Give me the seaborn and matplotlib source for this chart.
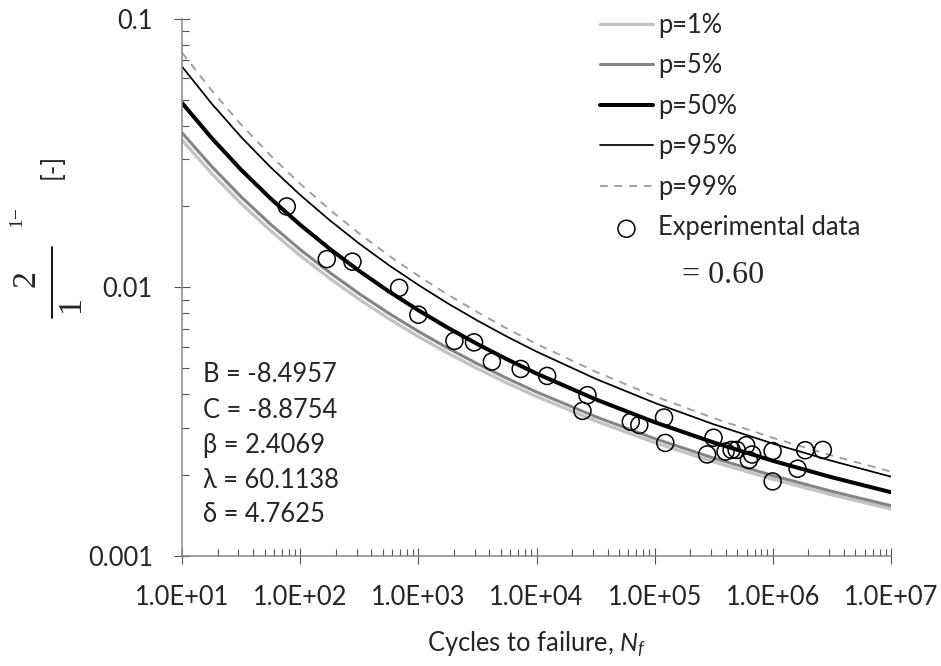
import numpy as np
import pandas as pd
import matplotlib
matplotlib.use("Agg")
import matplotlib.pyplot as plt
from matplotlib.lines import Line2D
import seaborn as sns

# кривые вероятности разрушения
n_curve = [1e1, 17.8, 31.6, 56.2, 1e2, 178, 316, 562, 1e3, 1778, 3162, 5623,
           1e4, 31623, 1e5, 316228, 1e6, 3162278, 1e7]
p1 = [0.03533, 0.02657, 0.02053, 0.01625, 0.01313, 0.01080, 0.009023, 0.007646,
      0.006559, 0.005690, 0.004984, 0.004406, 0.003925, 0.003183, 0.002644,
      0.002241, 0.001932, 0.001690, 0.001497]
p5 = [0.03763, 0.02821, 0.02174, 0.01716, 0.01383, 0.01135, 0.009466, 0.008006,
      0.006856, 0.005938, 0.005194, 0.004584, 0.004079, 0.003300, 0.002735,
      0.002314, 0.001992, 0.001740, 0.001539]
p50 = [0.04858, 0.03598, 0.02741, 0.02141, 0.01709, 0.01391, 0.01151, 0.009660,
       0.008217, 0.007071, 0.006149, 0.005398, 0.004778, 0.003830, 0.003148,
       0.002644, 0.002261, 0.001963, 0.001727]
p95 = [0.06637, 0.04832, 0.03630, 0.02799, 0.02208, 0.01777, 0.01455, 0.01210,
       0.01021, 0.008712, 0.007520, 0.006556, 0.005766, 0.004567, 0.003715,
       0.003091, 0.002621, 0.002259, 0.001974]
p99 = [0.07479, 0.05410, 0.04037, 0.03095, 0.02429, 0.01945, 0.01586, 0.01314,
       0.01104, 0.009393, 0.008082, 0.007024, 0.006161, 0.004855, 0.003932,
       0.003259, 0.002753, 0.002365, 0.002061]

# экспериментальные точки
n_exp = [77, 168, 277, 688, 1000, 2020, 2960, 4190, 7350, 12300, 27000, 24500,
         62800, 74100, 120000, 123000, 315000, 278000, 398000, 448000, 494000,
         594000, 668000, 627000, 996000, 996000, 1620000, 1880000, 2650000]
eps_exp = [0.0200, 0.01274, 0.01246, 0.00996, 0.00791, 0.00632, 0.00624, 0.00529,
           0.00497, 0.00468, 0.00397, 0.00347, 0.00316, 0.003075, 0.003277, 0.002636,
           0.002756, 0.002388, 0.002448, 0.002482, 0.002482, 0.002584, 0.002386,
           0.002276, 0.002459, 0.001895, 0.002113, 0.002476, 0.002482]

x_ticks = [1e1, 1e2, 1e3, 1e4, 1e5, 1e6, 1e7]
x_labels = ['1.0E+01', '1.0E+02', '1.0E+03', '1.0E+04', '1.0E+05', '1.0E+06', '1.0E+07']
y_ticks = [0.001, 0.01, 0.1]
y_labels = ['0.001', '0.01', '0.1']
params = ['B = -8.4957', 'C = -8.8754', 'β = 2.4069', 'λ = 60.1138', 'δ = 4.7625']

sns.set_style("white")
plt.rcParams['font.family'] = ['Lato', 'DejaVu Sans']
plt.rcParams['mathtext.fontset'] = 'custom'
plt.rcParams['mathtext.rm'] = 'Lato'
plt.rcParams['mathtext.it'] = 'Lato:italic'

W, H = 941, 666
fs = 18.4
fig = plt.figure(figsize=(W / 100, H / 100), dpi=100)
ax = fig.add_axes([182 / W, 1 - 556 / H, (891 - 182) / W, (556 - 18.7) / H])
ax.set_xscale('log')
ax.set_yscale('log')

curves = pd.DataFrame({'N': n_curve, 'p=1%': p1, 'p=5%': p5, 'p=50%': p50,
                       'p=95%': p95, 'p=99%': p99})
styles = {'p=1%': dict(color='#c3c3c3', lw=2.4),
          'p=5%': dict(color='#858585', lw=2.2),
          'p=50%': dict(color='black', lw=2.9),
          'p=95%': dict(color='black', lw=1.25),
          'p=99%': dict(color='#a0a0a0', lw=1.4, dashes=(4, 3.5))}
for name, st in styles.items():
    dsh = st.pop('dashes', None)
    sns.lineplot(data=curves, x='N', y=name, ax=ax, label=name, **st)
    if dsh:
        ax.lines[-1].set_dashes(dsh)

exp = pd.DataFrame({'N': n_exp, 'eps': eps_exp})
sns.scatterplot(data=exp, x='N', y='eps', ax=ax, s=150, facecolor='none',
                edgecolor='black', linewidth=1.1, label='Experimental data', zorder=5)

ax.set_xlim(1e1, 1e7)
ax.set_ylim(0.001, 0.1)
ax.set_xticks(x_ticks)
ax.set_xticklabels(x_labels)
ax.set_yticks(y_ticks)
ax.set_yticklabels(y_labels)
ax.set_xlabel(r'Cycles to failure, $N_f$', fontsize=fs, labelpad=14)
ax.set_ylabel('')

for s in ['top', 'right']:
    ax.spines[s].set_visible(False)
for s in ['left', 'bottom']:
    ax.spines[s].set_color('#868686')
    ax.spines[s].set_linewidth(1.1)
ax.tick_params(which='both', bottom=True, left=True, top=False, right=False)
ax.tick_params(which='major', direction='inout', length=12, width=0.8,
               color='#555555', labelsize=fs, pad=15)
ax.tick_params(which='minor', direction='in', length=5, width=0.8, color='#555555')

h, l = ax.get_legend_handles_labels()
ax.legend(h, l, loc='upper left', bbox_to_anchor=(600 / W, 1 - 12.5 / H),
          bbox_transform=fig.transFigure, frameon=False, fontsize=fs,
          handlelength=2.07, handletextpad=0.2, labelspacing=0.61,
          borderpad=0, borderaxespad=0)

fig.text(723 / W, 1 - 275 / H, '= 0.60', family='Liberation Serif', fontsize=23,
         ha='center', va='center')

for i, t in enumerate(params):
    fig.text(203 / W, 1 - (375 + 35 * i) / H, t, fontsize=fs, ha='left', va='center')

# подпись оси y, собранная из кусков
fig.text(52 / W, 1 - 166 / H, '[-]', fontsize=fs, rotation=90, ha='center', va='center')
fig.text(17 / W, 1 - 217 / H, '1\u2212', family='Liberation Serif', fontsize=14,
         rotation=90, ha='center', va='center')
fig.text(26.5 / W, 1 - 279 / H, '2', family='Liberation Serif', fontsize=24.5,
         rotation=90, ha='center', va='center')
fig.text(71 / W, 1 - 304 / H, '1', family='Liberation Serif', fontsize=24.5,
         rotation=90, ha='center', va='center')
fig.add_artist(Line2D([52 / W, 52 / W], [1 - 247 / H, 1 - 318 / H],
                      transform=fig.transFigure, color='black', lw=1.3))

fig.savefig('out.png', dpi=100)
